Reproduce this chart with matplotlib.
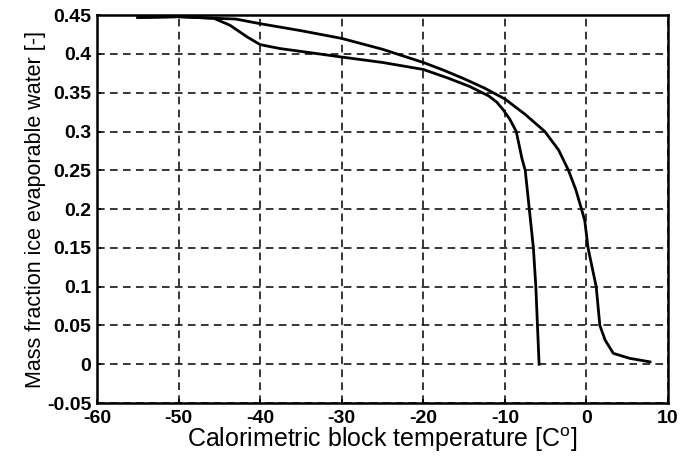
import matplotlib
matplotlib.use("Agg")
import matplotlib.pyplot as plt

plt.rcParams['font.family'] = ['Liberation Sans', 'DejaVu Sans']
plt.rcParams['mathtext.fontset'] = 'custom'
plt.rcParams['mathtext.rm'] = 'Liberation Sans'
plt.rcParams['axes.unicode_minus'] = False

# curve that reaches zero just above 0 C
t_upper = [-55, -50, -45.7, -43, -40, -35, -30, -25, -20, -17.5, -15, -12.5, -10,
           -7.5, -5.1, -3.4, -2.2, -1.3, -0.6, -0.2, 0.2, 0.7, 1.2, 1.65, 2.3, 3.3,
           5.3, 7.8]
f_upper = [0.447, 0.448, 0.446, 0.445, 0.439, 0.430, 0.420, 0.406, 0.389, 0.379,
           0.368, 0.356, 0.342, 0.322, 0.300, 0.276, 0.250, 0.225, 0.200, 0.185,
           0.150, 0.125, 0.100, 0.050, 0.031, 0.014, 0.0076, 0.003]

# curve that drops to zero near -6 C
t_lower = [-55, -50, -45.7, -43.7, -41.6, -40, -37.6, -30, -25, -20, -17, -14.3,
           -12, -11, -10.2, -9.4, -8.6, -7.9, -7.5, -7.0, -6.5, -6.2, -6.0, -5.8]
f_lower = [0.447, 0.448, 0.446, 0.437, 0.422, 0.412, 0.407, 0.396, 0.389, 0.380,
           0.369, 0.358, 0.346, 0.338, 0.328, 0.316, 0.300, 0.265, 0.250, 0.200,
           0.150, 0.100, 0.050, 0.0]

xticks = [-60, -50, -40, -30, -20, -10, 0, 10]
yticks = [-0.05, 0, 0.05, 0.1, 0.15, 0.2, 0.25, 0.3, 0.35, 0.4, 0.45]
ylabels = ['-0.05', '0', '0.05', '0.1', '0.15', '0.2', '0.25', '0.3', '0.35', '0.4', '0.45']

fig = plt.figure(figsize=(6.83, 4.59), dpi=100)
ax = fig.add_axes([0.142, 0.122, 0.836, 0.845])

ax.plot(t_upper, f_upper, color='black', lw=2.0)
ax.plot(t_lower, f_lower, color='black', lw=2.0)

ax.set_xlim(-60, 10)
ax.set_ylim(-0.05, 0.45)
ax.set_xticks(xticks)
ax.set_yticks(yticks)
ax.set_yticklabels(ylabels)
ax.tick_params(direction='in', length=3, labelsize=14, width=1.2)
ax.tick_params(axis='x', pad=5)
ax.tick_params(axis='y', pad=4)
for lab in ax.get_xticklabels() + ax.get_yticklabels():
    lab.set_fontweight('bold')

ax.grid(True, color='black', linestyle=(0, (5, 3.5)), linewidth=1.1)
for s in ax.spines.values():
    s.set_linewidth(1.8)

ax.set_xlabel(r'Calorimetric block temperature [C$^{\rm o}$]', fontsize=18, labelpad=-1)
ax.set_ylabel('Mass fraction ice evaporable water [-]', fontsize=15.5, labelpad=1)

fig.savefig('out.png', dpi=100)
